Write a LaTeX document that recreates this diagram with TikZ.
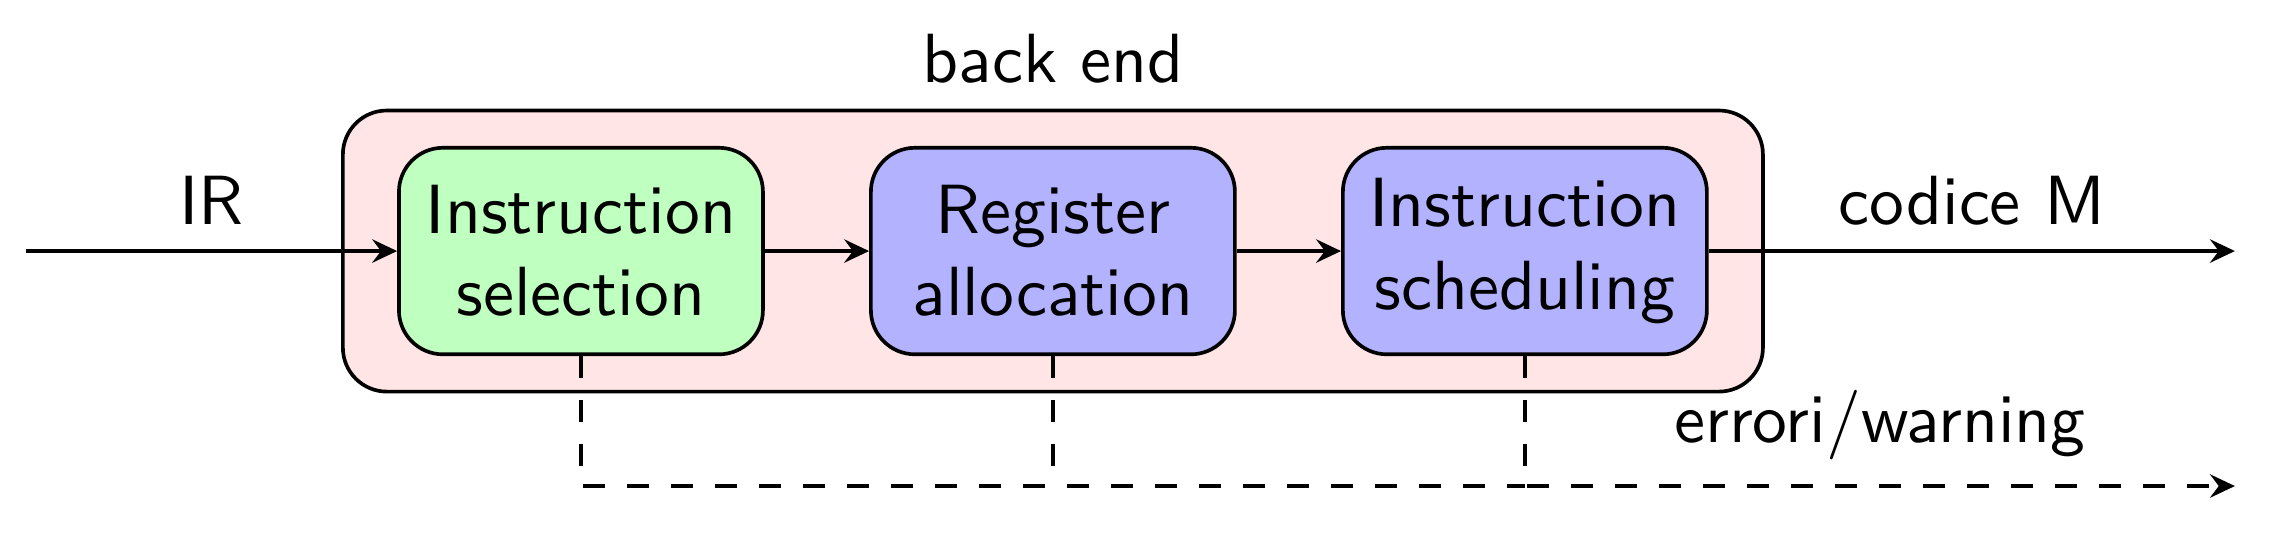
\documentclass[tikz,border=0pt]{standalone}
\usepackage{tikz}
\usetikzlibrary{positioning,fit,arrows.meta,backgrounds}

\begin{document}
\begin{tikzpicture}[font=\sffamily\fontsize{9.5}{11.2}\selectfont,
  phase/.style ={draw=black, line width=0.5pt, rounded corners=6pt, align=center,
                 minimum width=1.745cm, minimum height=0.99cm, inner sep=2pt},
  backend/.style={draw=black, line width=0.5pt, rounded corners=6pt, fill=red!10,
                 inner xsep=0.26cm, inner ysep=0.17cm},
  flow/.style  ={line width=0.45pt, -{Stealth[length=3.4pt,width=3.2pt,inset=1.2pt]}},
  diag/.style  ={dashed}]

  \useasboundingbox (0,0) rectangle (10.911,2.656);

  % three back end phases
  \node[phase, fill=green!25] (sel) at (2.785,1.4525) {Instruction\\selection};
  \node[phase, fill=blue!30, right=0.5cm of sel] (reg) {Register\\allocation};
  \node[phase, fill=blue!30, right=0.5cm of reg] (sch) {Instruction\\scheduling};

  % back end frame
  \begin{scope}[on background layer]
    \node[backend, fit=(sel)(reg)(sch)] (be) {};
  \end{scope}
  \node[above=0pt of be] {back end};

  % free ends
  \coordinate (in)  at (0.125,1.4525);
  \coordinate (out) at (10.714,1.4525);
  \coordinate (err) at (10.714,0.326);

  % main flow
  \draw[flow] (in) -- node[above]{IR} (sel);
  \draw[flow] (sel) -- (reg);
  \draw[flow] (reg) -- (sch);
  \draw[flow] (sch) -- node[above]{codice M} (out);

  % diagnostics
  \draw[diag, line width=0.45pt] (sel.south) |- (sch.south |- err);
  \draw[diag, line width=0.45pt] (reg.south) -- (reg.south |- err);
  \draw[diag, flow] (sch.south) |- node[above, pos=0.75]{errori/warning} (err);
\end{tikzpicture}
\end{document}
